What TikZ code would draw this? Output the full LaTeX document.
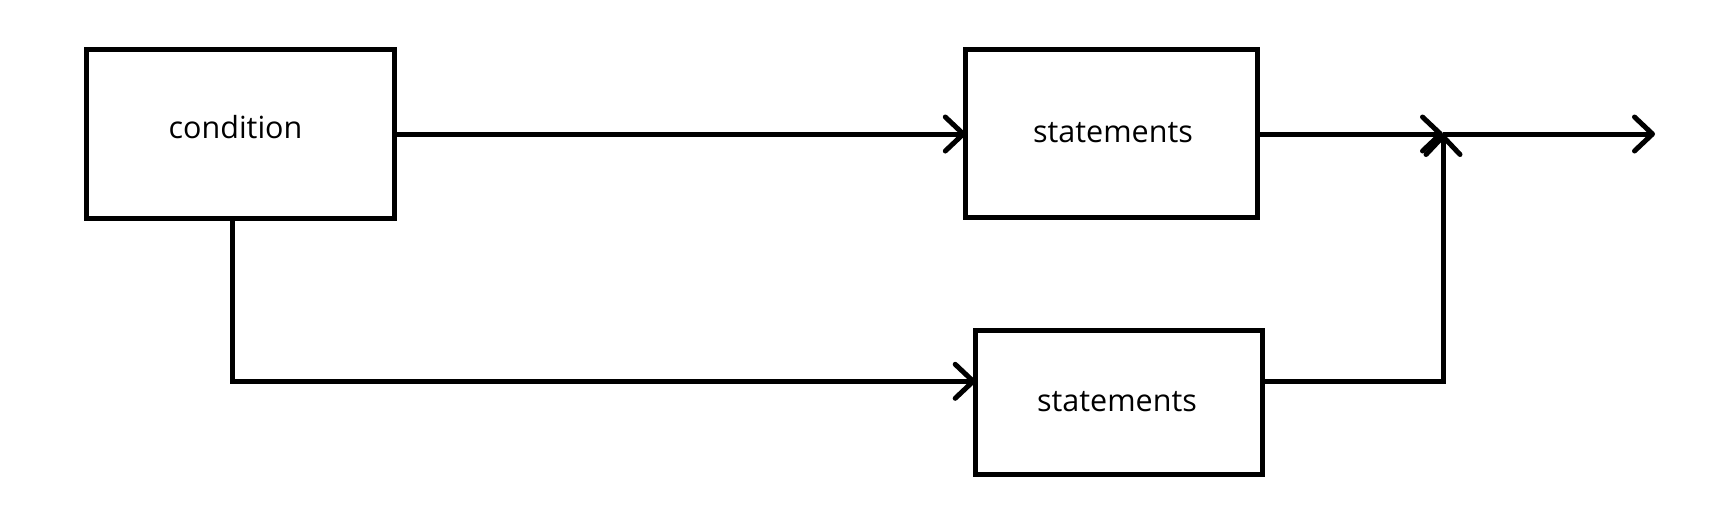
\documentclass[tikz,border=0pt]{standalone}
\usepackage{fontspec}
\setmainfont{Open Sans}
\usetikzlibrary{arrows.meta}
\begin{document}
\begin{tikzpicture}[x=1pt,y=-1pt,
  box/.style={draw=black,line width=5pt,rectangle,inner sep=0pt,outer sep=0pt},
  lbl/.style={anchor=base,inner sep=0pt,font=\fontsize{30.5pt}{36pt}\selectfont},
  conn/.style={draw=black,line width=5pt},
  arr/.style={conn,-{Straight Barb[length=18pt,width=34pt,round]}}]
\useasboundingbox (0,0) rectangle (1721,504);
\node[box,minimum width=307.8pt,minimum height=168.5pt] (cond) at (240.4,134.05) {};
\node[box,minimum width=291.2pt,minimum height=167.2pt] (top) at (1111.4,133.4) {};
\node[box,minimum width=286.6pt,minimum height=143.3pt] (bot) at (1119,402.35) {};
\node[lbl] (tcond) at (235.5,138.3) {condition};
\node[lbl] (ttop) at (1113,142.7) {statements};
\node[lbl] (tbot) at (1117,411.7) {statements};
\coordinate (c1) at (232.5,381.3);
\coordinate (j) at (1443,134);
\coordinate (out) at (1655,134);
\draw[arr] (cond.east |- j) -- (top.west |- j);
\draw[arr] (c1 |- cond.south) -- (c1) -- (c1 -| bot.west);
\draw[arr] (top.east |- j) -- (j);
\draw[arr] (bot.east |- c1) -- (j |- c1) -- (j);
\draw[arr] (j) -- (out);
\end{tikzpicture}
\end{document}
